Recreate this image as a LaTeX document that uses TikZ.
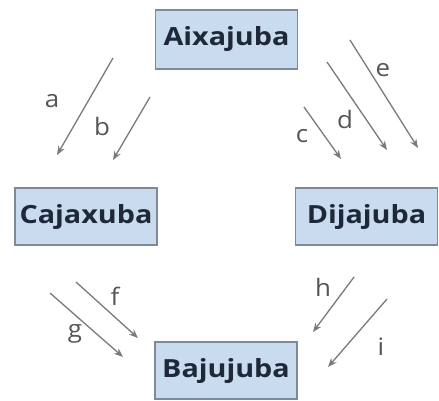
\documentclass[tikz,border=0pt]{standalone}
\usepackage{fontspec}
\setmainfont{Open Sans}
\newfontfamily\boxfont[FakeStretch=1.15]{Open Sans}
\newfontfamily\labfont[FakeStretch=1.08]{Open Sans}
\usetikzlibrary{arrows.meta}
\definecolor{boxfill}{HTML}{C9DCEF}
\definecolor{boxdraw}{HTML}{7D8A99}
\definecolor{boxtext}{HTML}{1E2838}
\definecolor{arrowcol}{HTML}{7A7A7A}
\definecolor{labcol}{HTML}{555555}
\tikzset{
  box/.style={draw=boxdraw, fill=boxfill, line width=1.4pt, minimum width=142pt, minimum height=57pt, inner sep=0pt,
    font=\boxfont\fontsize{25}{28}\selectfont\bfseries, text=boxtext},
  arr/.style={draw=arrowcol, line width=1.3pt, -{Stealth[length=9pt,width=7pt]}},
  lab/.style={font=\labfont\fontsize{24}{26}\selectfont, text=labcol, inner sep=0pt}
}
\begin{document}
\begin{tikzpicture}[x=1pt,y=-1pt]
\useasboundingbox[fill=white] (0,0) rectangle (439,400);
\node[box, minimum height=59pt] (A) at (226.5,39.5) {Aixajuba};
\node[box] (C) at (86,216.5) {Cajaxuba};
\node[box] (D) at (366.5,216.5) {Dijajuba};
\node[box] (B) at (226,370.5) {Bajujuba};
% a,b
\coordinate (a1) at (113,58); \coordinate (a2) at (57,155);
\coordinate (b1) at (150,97); \coordinate (b2) at (113,160);
% c,d,e
\coordinate (c1) at (304,107); \coordinate (c2) at (341,159);
\coordinate (d1) at (327,62); \coordinate (d2) at (387,150);
\coordinate (e1) at (350,40); \coordinate (e2) at (418,148);
% f,g
\coordinate (f1) at (76,282); \coordinate (f2) at (138,338);
\coordinate (g1) at (50,293); \coordinate (g2) at (123,357);
% h,i
\coordinate (h1) at (354,277); \coordinate (h2) at (313,332);
\coordinate (i1) at (387,299); \coordinate (i2) at (328,367);
\draw[arr] (a1) -- (a2);
\draw[arr] (b1) -- (b2);
\draw[arr] (c1) -- (c2);
\draw[arr] (d1) -- (d2);
\draw[arr] (e1) -- (e2);
\draw[arr] (f1) -- (f2);
\draw[arr] (g1) -- (g2);
\draw[arr] (h1) -- (h2);
\draw[arr] (i1) -- (i2);
\node[lab] (la) at (52,101) {a};
\node[lab] (lb) at (102,126) {b};
\node[lab] (lc) at (302,136) {c};
\node[lab] (ld) at (345,119) {d};
\node[lab] (le) at (383,70) {e};
\node[lab] (lf) at (115,296) {f};
\node[lab] (lg) at (75,334) {g};
\node[lab] (lh) at (323,287) {h};
\node[lab] (li) at (381,347) {i};
\end{tikzpicture}
\end{document}
